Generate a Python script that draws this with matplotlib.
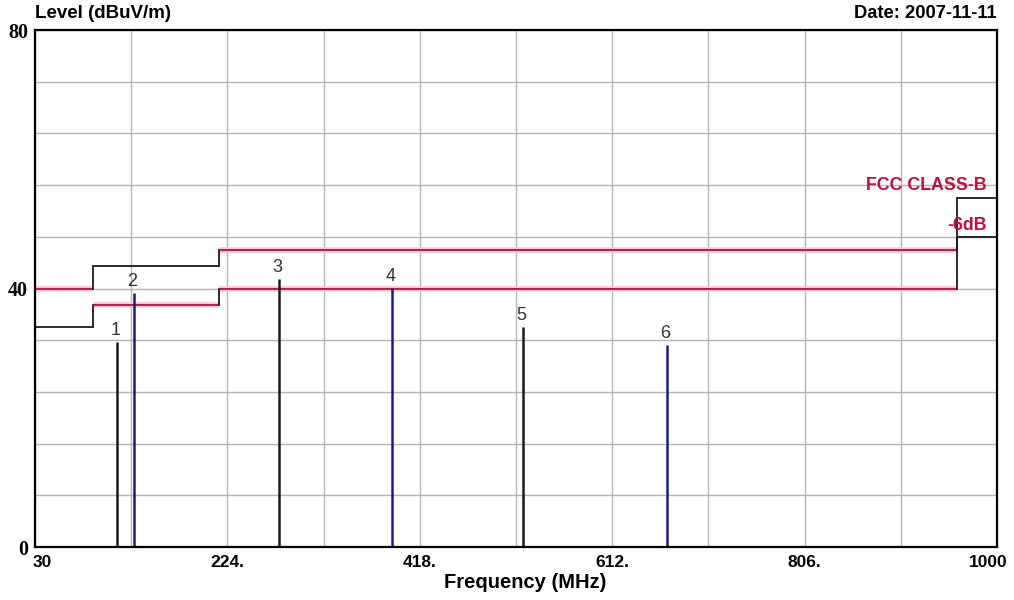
import matplotlib

matplotlib.use("Agg")
import matplotlib.pyplot as plt
import matplotlib.transforms as mtransforms

# limit lines (FCC class B) and the -6 dB margin, drawn as steps
edges = [30, 88, 216, 960, 1000]
limit_level = [40, 43.5, 46, 54]
margin_level = [34, 37.5, 40, 48]
limit_colors = ["red", "black", "red", "black"]
margin_colors = ["black", "red", "red", "black"]

# measured peaks
peak_no = ["1", "2", "3", "4", "5", "6"]
peak_freq = [112.7, 129.8, 276.0, 390.0, 522.0, 667.0]
peak_level = [31.7, 39.3, 41.5, 40.1, 34.1, 31.3]
peak_colors = ["black", "blue", "black", "blue", "black", "blue"]

x_ticks = [30, 224, 418, 612, 806, 1000]
x_labels = ["30", "224.", "418.", "612.", "806.", "1000"]
y_ticks = [0, 40, 80]

SANS = "Liberation Sans"
SERIF = "Liberation Serif"
RED = "#a8183c"
PINK = "#f6c4d2"
BLACK = "#1a1a1a"
BLUE = "#1c1c80"
palette = {"red": RED, "black": BLACK, "blue": BLUE}


def step_line(ax, levels, colors):
    for i, (lvl, c) in enumerate(zip(levels, colors)):
        x0, x1 = edges[i], edges[i + 1]
        if c == "red":
            ax.plot([x0, x1], [lvl, lvl], color=PINK, lw=4, zorder=2, solid_capstyle="butt")
        ax.plot([x0, x1], [lvl, lvl], color=palette[c], lw=1.3, zorder=3, solid_capstyle="butt")
        if i + 1 < len(levels):
            ax.plot([x1, x1], [lvl, levels[i + 1]], color=BLACK, lw=1.3, zorder=3)


fig = plt.figure(figsize=(10.14, 6.0), dpi=100)
ax = fig.add_axes([0.0345, 0.0883, 0.9487, 0.8617])
ax.set_xlim(30, 1000)
ax.set_ylim(0, 80)

ax.set_xticks(x_ticks)
ax.set_xticklabels(x_labels, fontfamily=SANS, fontweight="bold", fontsize=12.5)
ax.set_xticks([30 + 97 * k for k in range(1, 10, 2)], minor=True)
ax.set_yticks(y_ticks)
ax.set_yticklabels([str(v) for v in y_ticks], fontfamily=SERIF, fontweight="bold", fontsize=14.5)
ax.set_yticks([8 * k for k in range(1, 10) if k != 5], minor=True)
ax.tick_params(which="both", length=0)
ax.tick_params(axis="x", pad=6)
ax.tick_params(axis="y", pad=5)
ax.grid(which="both", color="#b4b4b4", lw=1.0, zorder=0)
for s in ax.spines.values():
    s.set_linewidth(1.6)
    s.set_color("black")
    s.set_zorder(5)

labels = ax.get_xticklabels()
labels[0].set_ha("left")
labels[0].set_transform(labels[0].get_transform() + mtransforms.ScaledTranslation(-2 / 100, 0, fig.dpi_scale_trans))
labels[-1].set_transform(labels[-1].get_transform() + mtransforms.ScaledTranslation(-9 / 100, 0, fig.dpi_scale_trans))

step_line(ax, limit_level, limit_colors)
step_line(ax, margin_level, margin_colors)

ax.text(990, 56.0, "FCC CLASS-B", color="#c0103c", fontfamily=SANS, fontweight="bold", fontsize=12.8,
        ha="right", va="center", zorder=6)
ax.text(990, 49.7, "-6dB", color="#c0103c", fontfamily=SANS, fontweight="bold", fontsize=12.8,
        ha="right", va="center", zorder=6)

for n, f, lvl, c in zip(peak_no, peak_freq, peak_level, peak_colors):
    ax.vlines(f, 0, lvl, color=palette[c], lw=1.8, zorder=4)
    ax.annotate(n, (f, lvl), xytext=(-1, 2), textcoords="offset points", ha="center", va="bottom",
                fontfamily=SANS, fontsize=13, color="#333333", zorder=6)

fig.text(35 / 1014, 1 - 13 / 600, "Level (dBuV/m)", fontfamily=SANS, fontweight="bold", fontsize=13.5,
         ha="left", va="center")
fig.text(997 / 1014, 1 - 14 / 600, "Date: 2007-11-11", fontfamily=SANS, fontweight="bold", fontsize=13.2,
         ha="right", va="center")
fig.text(525 / 1014, 1 - 582 / 600, "Frequency (MHz)", fontfamily=SANS, fontweight="bold", fontsize=14.5,
         ha="center", va="center")

fig.savefig("out.png", dpi=100, facecolor="white")
